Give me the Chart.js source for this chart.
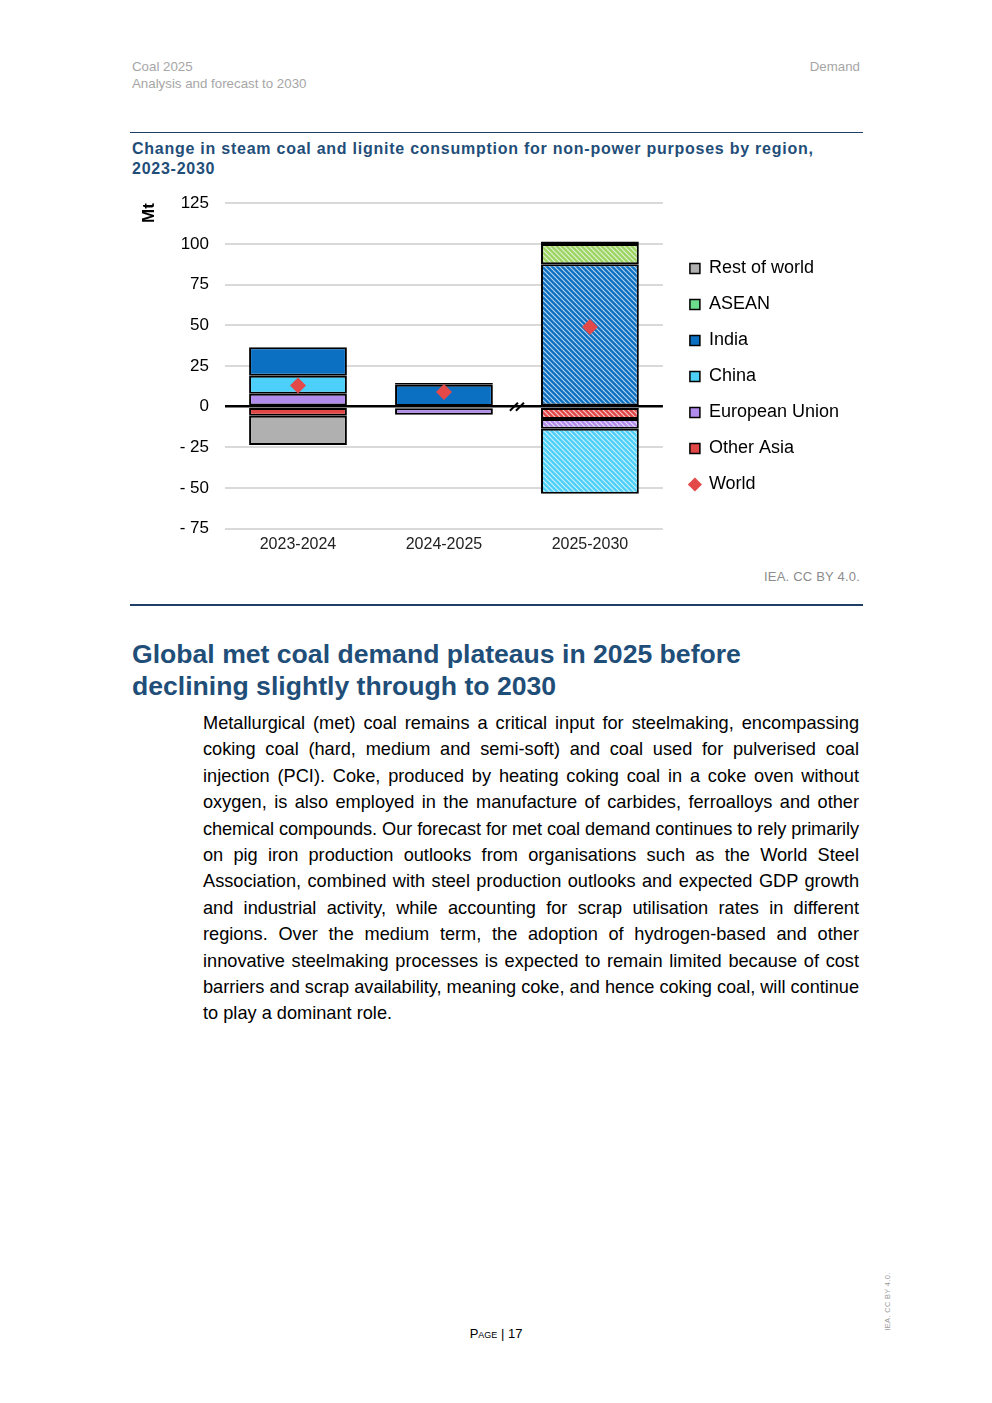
<!DOCTYPE html>
<html>
<head>
<meta charset="utf-8">
<script src="https://cdn.jsdelivr.net/npm/chart.js@4.4.1/dist/chart.umd.min.js"></script>
<style>
body { margin: 0; background: #fff; font-family: "Liberation Sans", Arial, sans-serif; }
#page { position: relative; width: 992px; height: 1403px; overflow: hidden; }
.hdr { position: absolute; top: 58px; font-family: "Liberation Sans Narrow", "Liberation Sans", sans-serif; color: #a6a6a6; font-size: 13.3px; line-height: 17px; }
.rule { position: absolute; left: 130px; width: 733px; background: #1f3f66; }
#ctitle { position: absolute; left: 132px; top: 139px; font-weight: bold; font-size: 16px; letter-spacing: 0.75px; line-height: 20px; color: #1f4e79; }
#chartBox { position: absolute; left: 130px; top: 177px; width: 735px; height: 383px; }
#src { position: absolute; right: 132px; top: 569px; font-size: 13px; letter-spacing: 0.2px; color: #8c8c8c; }
#heading { position: absolute; left: 132px; top: 638px; font-weight: bold; font-size: 26.6px; line-height: 32px; color: #1f4e79; }
#body { position: absolute; left: 203px; width: 656px; top: 710px; font-size: 18.2px; line-height: 26.4px; color: #000; }
#body span { display: block; text-align: justify; text-align-last: justify; }
#body span.last { text-align-last: left; }
#foot { position: absolute; left: 0; width: 992px; text-align: center; top: 1326px; font-size: 13px; font-variant: small-caps; color: #000; }
#vert { position: absolute; left: 850px; top: 1297px; width: 74px; transform: rotate(-90deg); font-size: 7.5px; color: #999; text-align: center; letter-spacing: 0.3px; }
</style>
</head>
<body>
<div id="page">
  <div class="hdr" style="left:132px">Coal 2025<br>Analysis and forecast to 2030</div>
  <div class="hdr" style="right:132px">Demand</div>
  <div class="rule" style="top:132px;height:1px"></div>
  <div id="ctitle">Change in steam coal and lignite consumption for non-power purposes by region,<br>2023-2030</div>
  <div id="chartBox"><canvas id="myChart"></canvas></div>
  <div id="src">IEA. CC BY 4.0.</div>
  <div class="rule" style="top:604px;height:2px"></div>
  <div id="heading">Global met coal demand plateaus in 2025 before<br>declining slightly through to 2030</div>
  <div id="body">
    <span>Metallurgical (met) coal remains a critical input for steelmaking, encompassing</span>
    <span>coking coal (hard, medium and semi-soft) and coal used for pulverised coal</span>
    <span>injection (PCI). Coke, produced by heating coking coal in a coke oven without</span>
    <span>oxygen, is also employed in the manufacture of carbides, ferroalloys and other</span>
    <span>chemical compounds. Our forecast for met coal demand continues to rely primarily</span>
    <span>on pig iron production outlooks from organisations such as the World Steel</span>
    <span>Association, combined with steel production outlooks and expected GDP growth</span>
    <span>and industrial activity, while accounting for scrap utilisation rates in different</span>
    <span>regions. Over the medium term, the adoption of hydrogen-based and other</span>
    <span>innovative steelmaking processes is expected to remain limited because of cost</span>
    <span>barriers and scrap availability, meaning coke, and hence coking coal, will continue</span>
    <span class="last">to play a dominant role.</span>
  </div>
  <div id="foot">Page | 17</div>
  <div id="vert">IEA. CC BY 4.0.</div>
</div>
<script>
// values (Mt)
const categories = ["2023-2024", "2024-2025", "2025-2030"];
const otherAsia = [-5.5, -1, -7.5];
const europeanUnion = [8, -4, -6];
const china = [11, 0.5, -40];
const india = [17.5, 13, 87.5];
const asean = [0, 0, 12.5];
const restOfWorld = [-18, 1, 1.5];
const world = [13, 9, 49];
const yMin = -75, yMax = 125, yStep = 25;

// keep the justified lines from wrapping: tighten any line that is too long
document.querySelectorAll("#body span").forEach(function (s) {
  const probe = document.createElement("span");
  probe.style.cssText = "display:inline-block;white-space:nowrap;position:absolute;visibility:hidden";
  probe.textContent = s.textContent;
  s.parentNode.appendChild(probe);
  const w = probe.getBoundingClientRect().width;
  if (w > 655) s.style.letterSpacing = ((655 - w) / s.textContent.length) + "px";
  probe.remove();
});

// 2025-2030 is a forecast -> hatched fill
function hatch(color) {
  const c = document.createElement("canvas");
  c.width = 5; c.height = 5;
  const g = c.getContext("2d");
  g.fillStyle = color;
  g.fillRect(0, 0, 5, 5);
  g.strokeStyle = "rgba(255,255,255,0.7)";
  g.lineWidth = 1.2;
  g.beginPath();
  g.moveTo(-1, -1); g.lineTo(6, 6);
  g.moveTo(-1, 4); g.lineTo(1, 6);
  g.moveTo(4, -1); g.lineTo(6, 1);
  g.stroke();
  return g.createPattern(c, "repeat");
}

function barSet(label, data, color, legendColor) {
  return {
    type: "bar",
    label: label,
    data: data,
    backgroundColor: [color, color, hatch(color)],
    legendColor: legendColor || color,
    borderColor: "#000",
    borderWidth: 2,
    borderSkipped: false,
    barPercentage: 0.67,
    categoryPercentage: 1,
    stack: "regions",
    order: 1,
  };
}

const breakMark = {
  id: "breakMark",
  afterDatasetsDraw(chart) {
    const ctx = chart.ctx;
    const xs = chart.scales.x;
    const x = (xs.getPixelForTick(1) + xs.getPixelForTick(2)) / 2;
    const y = chart.scales.y.getPixelForValue(0);
    ctx.save();
    ctx.strokeStyle = "#000";
    ctx.lineWidth = 2;
    [-3, 3].forEach(function (dx) {
      ctx.beginPath();
      ctx.moveTo(x + dx - 4, y + 4);
      ctx.lineTo(x + dx + 4, y - 4);
      ctx.stroke();
    });
    ctx.restore();
  },
};

// nudge the legend block to where it sits in the original
const legendNudge = {
  id: "legendNudge",
  afterLayout(chart) {
    const lg = chart.legend;
    lg.left += 9; lg.right += 9;
    lg.top += 8; lg.bottom += 8;
  },
};

var ctx = document.getElementById("myChart");
var chart = new Chart(ctx, {
  data: {
    labels: categories,
    datasets: [
      {
        type: "line",
        label: "World",
        data: world,
        showLine: false,
        pointStyle: "rectRot",
        pointRadius: 8,
        pointHoverRadius: 8,
        backgroundColor: "#e34948",
        borderColor: "#e34948",
        borderWidth: 0,
        stack: "world",
        order: 0,
      },
      barSet("Other Asia", otherAsia, "#e04646"),
      barSet("European Union", europeanUnion, "#b18ced"),
      barSet("China", china, "#4ccff8"),
      barSet("India", india, "#0b6fc2"),
      barSet("ASEAN", asean, "#9cd462", "#6cdd8c"),
      barSet("Rest of world", restOfWorld, "#b0b0b0"),
    ],
  },
  options: {
    responsive: true,
    maintainAspectRatio: false,
    animation: false,
    layout: { padding: { top: 0, right: 25, bottom: 0, left: 0 } },
    plugins: {
      tooltip: { enabled: false },
      legend: {
        position: "right",
        reverse: true,
        labels: {
          usePointStyle: true,
          boxWidth: 10,
          boxHeight: 10,
          padding: 18,
          color: "#000",
          font: { family: "'Liberation Sans', Arial, sans-serif", size: 18 },
          generateLabels(chart) {
            return chart.data.datasets.map(function (ds, i) {
              const isWorld = ds.type === "line";
              return {
                text: ds.label,
                datasetIndex: i,
                fillStyle: isWorld ? ds.backgroundColor : ds.legendColor,
                strokeStyle: "#000",
                lineWidth: isWorld ? 0 : 1.5,
                pointStyle: isWorld ? "rectRot" : "rect",
                fontColor: "#000",
                hidden: false,
              };
            });
          },
        },
      },
    },
    scales: {
      x: {
        stacked: true,
        grid: { display: false, drawTicks: false },
        border: { display: false },
        ticks: { color: "#222", padding: 6, font: { family: "'Liberation Sans', Arial, sans-serif", size: 16 } },
      },
      y: {
        stacked: true,
        min: yMin,
        max: yMax,
        afterFit(scale) { scale.width = 95; },
        ticks: {
          stepSize: yStep,
          padding: 16,
          color: "#000",
          font: { family: "'Liberation Sans', Arial, sans-serif", size: 17 },
          callback: function (v) { return v < 0 ? "- " + Math.abs(v) : String(v); },
        },
        grid: {
          drawTicks: false,
          color: function (c) { return c.tick.value === 0 ? "#000" : "#d9d9d9"; },
          lineWidth: function (c) { return c.tick.value === 0 ? 2.5 : 2; },
        },
        border: { display: false },
        title: {
          display: true,
          text: "Mt",
          align: "end",
          color: "#000",
          padding: { top: 9, bottom: 0 },
          font: { family: "'Liberation Sans', Arial, sans-serif", size: 17, weight: "bold" },
        },
      },
    },
  },
  plugins: [breakMark, legendNudge],
});
</script>
</body>
</html>
